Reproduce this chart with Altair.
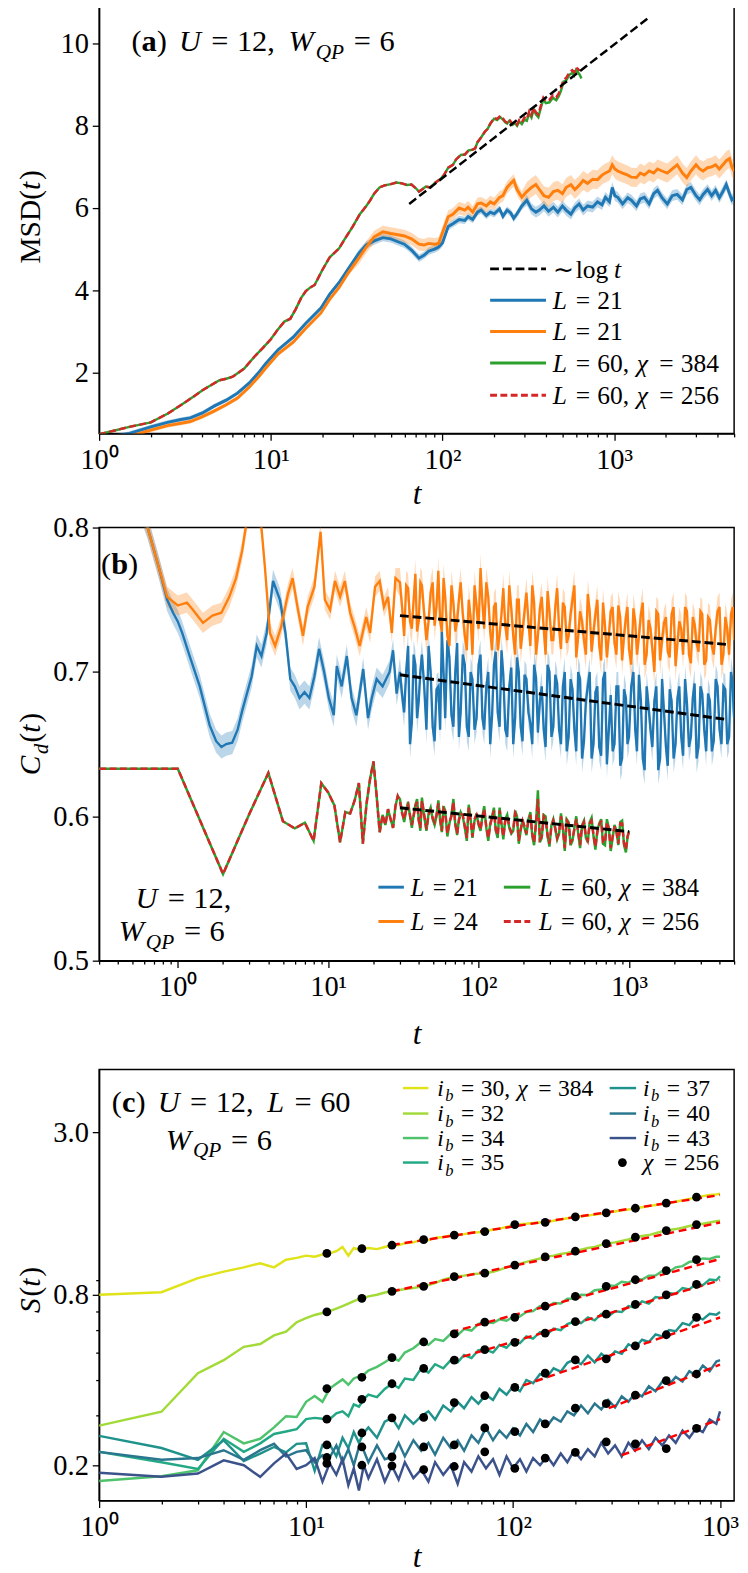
import altair as alt
import pandas as pd

FONT = "Liberation Serif"
BLUE, ORANGE, GREEN, RED = "#1f77b4", "#ff7f0e", "#2ca02c", "#d62728"

# ================= panel (a) data =================
A_T = [1, 1.2, 1.5, 2, 2.5, 3, 3.4, 4, 4.7, 5.5,
       6.4, 7.5, 8.5, 9.3, 11, 13.5, 16, 19.6, 22, 25,
       28, 32.6, 36, 40, 45, 50, 55, 60, 66, 73,
       78, 83, 90, 95, 100, 108, 115, 125, 135, 141,
       150, 160, 168, 180, 190, 200, 215, 225, 238, 250,
       260, 272, 290, 310, 330, 350, 367, 390, 415, 443,
       470, 500, 525, 560, 590, 625, 660, 700, 750, 800,
       850, 890, 940, 975, 1010, 1050, 1120, 1200, 1260, 1350,
       1420, 1500, 1600, 1700, 1790, 1900, 2040, 2180, 2330, 2500,
       2650, 2800, 3000, 3150, 3300, 3500, 3700, 3900, 4100, 4300,
       4500, 4700, 4850, 5000]
A_BLUE = [0.40, 0.45, 0.52, 0.68, 0.79, 0.86, 0.90, 1.02, 1.19, 1.33,
          1.50, 1.75, 2.00, 2.21, 2.55, 2.86, 3.20, 3.57, 3.90, 4.19,
          4.50, 4.90, 5.10, 5.20, 5.28, 5.25, 5.18, 5.12, 4.98, 4.78,
          4.85, 4.95, 5.00, 5.05, 5.15, 5.55, 5.62, 5.72, 5.70, 5.79,
          5.72, 5.90, 5.95, 5.82, 5.90, 5.86, 5.98, 5.80, 5.95, 5.88,
          5.75, 5.86, 6.05, 6.19, 5.98, 5.90, 5.95, 6.05, 5.92, 6.02,
          5.90, 6.05, 5.95, 5.85, 6.00, 6.10, 5.95, 6.05, 6.02, 6.15,
          6.08, 6.26, 6.15, 6.50, 6.30, 6.26, 6.10, 6.25, 6.19, 6.05,
          6.22, 6.26, 6.10, 6.35, 6.43, 6.25, 6.10, 6.30, 6.33, 6.20,
          6.45, 6.50, 6.30, 6.20, 6.33, 6.45, 6.30, 6.43, 6.25, 6.40,
          6.57, 6.35, 6.20, 6.26]
A_ORANGE = [0.35, 0.38, 0.45, 0.60, 0.71, 0.77, 0.81, 0.93, 1.07, 1.22,
            1.38, 1.65, 1.90, 2.10, 2.45, 2.74, 3.08, 3.45, 3.78, 4.07,
            4.40, 4.79, 5.05, 5.30, 5.42, 5.38, 5.35, 5.32, 5.25, 5.12,
            5.10, 5.14, 5.12, 5.14, 5.40, 5.79, 5.85, 6.00, 5.95, 6.02,
            5.90, 6.10, 6.12, 6.05, 6.15, 6.10, 6.26, 6.30, 6.50, 6.60,
            6.67, 6.45, 6.26, 6.40, 6.50, 6.57, 6.45, 6.30, 6.26, 6.40,
            6.43, 6.35, 6.50, 6.57, 6.45, 6.55, 6.67, 6.60, 6.70, 6.69,
            6.80, 6.85, 6.90, 7.05, 6.95, 6.90, 6.85, 6.80, 6.75, 6.74,
            6.85, 6.80, 6.90, 6.85, 6.95, 6.90, 6.85, 6.95, 7.05, 6.85,
            6.74, 6.90, 7.05, 6.95, 6.90, 6.98, 7.00, 7.05, 6.95, 7.05,
            7.15, 7.20, 7.00, 6.90]
# half-width of the shaded bands, read per time range (t<30, t<300, later)
A_BAND_EDGES = [30, 300]
A_BLUE_ERR = [0.05, 0.09, 0.13]
A_ORANGE_ERR = [0.05, 0.15, 0.23]
A_GREEN = [(1, 0.50), (1.2, 0.58), (1.5, 0.68), (2, 0.79), (2.5, 1.0), (3, 1.21), (3.5, 1.40), (4, 1.57),
           (4.5, 1.70), (5, 1.81), (5.5, 1.85), (6, 1.90), (7, 2.10), (8, 2.38), (9, 2.60), (10, 2.81),
           (11, 3.05), (12, 3.24), (13, 3.31), (14, 3.55), (15, 3.81), (16, 3.98), (17, 4.07), (18, 4.13),
           (20, 4.50), (22, 4.80), (25, 5.02), (27, 5.25), (30, 5.55), (33, 5.85), (36, 6.05), (38, 6.19),
           (40, 6.35), (43, 6.50), (46, 6.55), (50, 6.58), (54, 6.62), (58, 6.60), (62, 6.56), (66, 6.57),
           (70, 6.48), (73, 6.40), (76, 6.45), (80, 6.52), (85, 6.50), (91, 6.62), (97, 6.70), (102, 6.80),
           (108, 6.98), (115, 7.05), (120, 7.18), (128, 7.29), (135, 7.30), (142, 7.40), (150, 7.42),
           (155, 7.45), (160, 7.60), (167, 7.70), (173, 7.80), (177, 7.86), (183, 7.92), (190, 8.05),
           (200, 8.17), (208, 8.14), (217, 8.21), (225, 8.15), (232, 8.08), (238, 8.05), (245, 8.12),
           (255, 8.02), (265, 8.06), (272, 8.00), (280, 8.10), (290, 8.04), (300, 8.15), (310, 8.12),
           (320, 8.30), (330, 8.20), (340, 8.40), (350, 8.28), (362, 8.21), (375, 8.45), (387, 8.64),
           (400, 8.55), (420, 8.57), (440, 8.68), (460, 8.62), (475, 8.71), (490, 8.85), (507, 9.07),
           (525, 9.10), (549, 9.24), (570, 9.28), (585, 9.22), (600, 9.36), (615, 9.30), (630, 9.24),
           (645, 9.15)]
A_RED = [(1, 0.50), (1.2, 0.58), (1.5, 0.68), (2, 0.79), (2.5, 1.0), (3, 1.21), (3.5, 1.40), (4, 1.57),
         (4.5, 1.70), (5, 1.81), (5.5, 1.85), (6, 1.90), (7, 2.10), (8, 2.38), (9, 2.60), (10, 2.81),
         (11, 3.05), (12, 3.24), (13, 3.31), (14, 3.55), (15, 3.81), (16, 3.98), (17, 4.07), (18, 4.13),
         (20, 4.50), (22, 4.80), (25, 5.02), (27, 5.25), (30, 5.55), (33, 5.85), (36, 6.05), (38, 6.19),
         (40, 6.35), (43, 6.50), (46, 6.55), (50, 6.58), (54, 6.62), (58, 6.60), (62, 6.56), (66, 6.57),
         (70, 6.48), (73, 6.40), (76, 6.45), (80, 6.52), (85, 6.50), (91, 6.62), (97, 6.70), (102, 6.80),
         (108, 6.98), (115, 7.05), (120, 7.18), (128, 7.29), (135, 7.30), (142, 7.40), (150, 7.42),
         (155, 7.45), (160, 7.60), (167, 7.70), (173, 7.80), (177, 7.86), (183, 7.92), (190, 8.05),
         (200, 8.19), (208, 8.16), (217, 8.24), (225, 8.18), (232, 8.10), (238, 8.08), (245, 8.15),
         (255, 8.05), (265, 8.10), (272, 8.03), (280, 8.14), (290, 8.08), (300, 8.20), (310, 8.16),
         (320, 8.35), (330, 8.26), (340, 8.44), (350, 8.33), (362, 8.27), (375, 8.50), (387, 8.68),
         (400, 8.60), (420, 8.63), (440, 8.74), (460, 8.69), (475, 8.78), (490, 8.92), (507, 9.12),
         (525, 9.16), (549, 9.30), (570, 9.35), (585, 9.30), (600, 9.42), (615, 9.38), (630, 9.33)]
A_LOG_T = [64, 1560]
A_LOG_V = [6.1, 10.6]

# ================= panel (b) data =================
B_BLUE_EARLY = [(0.5, 0.83), (0.63, 0.80), (0.75, 0.772), (0.85, 0.75), (0.93, 0.741), (1.0, 0.735),
                (1.07, 0.727), (1.2, 0.711), (1.4, 0.69), (1.63, 0.663), (1.8, 0.652), (1.95, 0.648),
                (2.1, 0.65), (2.3, 0.651), (2.5, 0.66), (2.68, 0.673), (3.1, 0.697), (3.35, 0.718),
                (3.6, 0.711), (3.9, 0.727), (4.3, 0.763), (4.78, 0.75), (5.2, 0.727), (5.6, 0.695),
                (6.0, 0.69), (6.45, 0.682), (6.96, 0.686), (7.5, 0.682), (8.1, 0.697), (8.7, 0.716),
                (9.4, 0.70), (10.1, 0.682), (10.9, 0.67), (11.4, 0.704), (12.3, 0.69), (13.3, 0.711),
                (14.3, 0.682), (15.4, 0.67), (17.1, 0.702), (18.4, 0.668), (19.5, 0.682), (21, 0.695),
                (23, 0.69), (25.6, 0.70), (27, 0.715), (28.5, 0.685)]
B_ORANGE_EARLY = [(0.5, 0.83), (0.63, 0.80), (0.75, 0.772), (0.85, 0.752), (1.0, 0.746), (1.15, 0.748),
                  (1.26, 0.743), (1.47, 0.734), (1.7, 0.739), (1.95, 0.741), (2.2, 0.752), (2.44, 0.765),
                  (2.68, 0.784), (2.83, 0.80), (3.2, 0.83), (3.6, 0.80), (3.8, 0.772), (4.1, 0.727),
                  (4.44, 0.718), (4.86, 0.731), (5.4, 0.754), (5.8, 0.765), (6.3, 0.743), (6.8, 0.725),
                  (7.3, 0.745), (8.1, 0.759), (8.9, 0.797), (9.5, 0.75), (10.3, 0.743), (11.1, 0.763),
                  (12.0, 0.752), (12.9, 0.763), (14, 0.741), (15, 0.731), (16.2, 0.718), (17.9, 0.738),
                  (19, 0.727), (20.5, 0.759), (22, 0.763), (23.5, 0.745), (25, 0.752), (26.5, 0.727),
                  (28, 0.765)]
B_GREEN_EARLY = [(0.1, 0.633), (1, 0.633), (2, 0.560), (3, 0.602), (4, 0.630), (5, 0.5966), (6, 0.5916),
                 (7, 0.5955), (8, 0.583), (9, 0.623), (10, 0.6165), (11, 0.6075), (12, 0.582), (13, 0.603),
                 (14, 0.602), (15, 0.611), (16, 0.623), (17, 0.581), (18, 0.609), (19, 0.626), (20, 0.638),
                 (21, 0.614), (22, 0.589), (23, 0.601), (24, 0.594), (25, 0.605), (26, 0.598), (27, 0.592),
                 (28, 0.607), (29, 0.614)]
B_NOISE_T = [30, 32, 34, 36, 38, 40, 42, 45, 48, 51,
             54, 57, 60, 64, 68, 72, 76, 81, 86, 91,
             97, 103, 109, 116, 123, 130, 138, 146, 155, 165,
             175, 185, 196, 208, 221, 234, 248, 263, 279, 296,
             314, 333, 353, 374, 397, 421, 446, 473, 502, 532,
             564, 598, 634, 672, 713, 756, 801, 849, 900, 954,
             1000, 1070, 1130, 1200, 1270, 1350, 1430, 1520, 1610, 1710,
             1810, 1920, 2040, 2160, 2290, 2430, 2580, 2730, 2900, 3070,
             3260, 3450, 3660, 3880, 4120, 4370, 4630, 4900, 5000]
B_MID_T = [31, 33, 35, 37, 39, 41, 43.5, 46.5, 49.5, 52.5,
           55.5, 58.5, 62, 66, 70, 74, 78.5, 83.5, 88.5, 94,
           100, 106, 112.5, 119.5, 126.5, 134, 142, 150.5, 160, 170,
           180, 190.5, 202, 214.5, 227.5, 241, 255.5, 271, 287.5, 305,
           323.5, 343, 363.5, 385.5, 409, 433.5, 459.5, 487.5, 517, 548,
           581, 616, 653, 692.5, 734.5, 778.5, 825, 874.5, 927, 977,
           1035, 1100, 1165, 1235, 1310, 1390, 1475, 1565, 1660, 1760,
           1865, 1980, 2100, 2225, 2360, 2505, 2655, 2815, 2985, 3165,
           3355, 3555, 3770, 4000, 4245, 4500, 4765, 4950]
B_BLUE_NOISE = [0.700, 0.672, 0.718, 0.665, 0.705, 0.680, 0.712, 0.660, 0.700, 0.652,
                0.690, 0.728, 0.668, 0.710, 0.662, 0.720, 0.672, 0.705, 0.655, 0.695,
                0.668, 0.712, 0.660, 0.700, 0.670, 0.714, 0.662, 0.698, 0.655, 0.703,
                0.668, 0.700, 0.652, 0.695, 0.664, 0.705, 0.658, 0.690, 0.648, 0.700,
                0.662, 0.692, 0.650, 0.700, 0.655, 0.688, 0.645, 0.695, 0.652, 0.690,
                0.640, 0.686, 0.648, 0.695, 0.636, 0.684, 0.650, 0.690, 0.640, 0.682,
                0.655, 0.700, 0.645, 0.680, 0.632, 0.676, 0.648, 0.690, 0.640, 0.672,
                0.635, 0.680, 0.650, 0.690, 0.642, 0.678, 0.655, 0.692, 0.648, 0.685,
                0.645, 0.680, 0.652, 0.690, 0.650, 0.688, 0.655, 0.692, 0.668]
B_BLUE_MID = [0.684, 0.700, 0.650, 0.712, 0.668, 0.700, 0.690, 0.718, 0.662, 0.688,
              0.660, 0.700, 0.722, 0.670, 0.700, 0.655, 0.712, 0.662, 0.700, 0.660,
              0.705, 0.668, 0.690, 0.650, 0.705, 0.672, 0.715, 0.660, 0.690, 0.650,
              0.710, 0.662, 0.698, 0.672, 0.650, 0.696, 0.680, 0.660, 0.705, 0.655,
              0.698, 0.660, 0.690, 0.645, 0.695, 0.660, 0.700, 0.640, 0.680, 0.700,
              0.650, 0.690, 0.642, 0.700, 0.660, 0.645, 0.690, 0.635, 0.688, 0.650,
              0.690, 0.660, 0.698, 0.640, 0.690, 0.660, 0.680, 0.632, 0.695, 0.648,
              0.688, 0.640, 0.682, 0.655, 0.695, 0.648, 0.682, 0.640, 0.690, 0.660,
              0.685, 0.645, 0.695, 0.660, 0.690, 0.650, 0.700, 0.675]
B_ORANGE_NOISE = [0.762, 0.725, 0.758, 0.730, 0.768, 0.735, 0.760, 0.722, 0.755, 0.732,
                  0.770, 0.728, 0.752, 0.718, 0.748, 0.735, 0.762, 0.725, 0.750, 0.712,
                  0.745, 0.772, 0.730, 0.752, 0.715, 0.748, 0.726, 0.758, 0.722, 0.744,
                  0.712, 0.750, 0.728, 0.755, 0.718, 0.748, 0.725, 0.752, 0.712, 0.742,
                  0.722, 0.758, 0.716, 0.745, 0.725, 0.750, 0.710, 0.742, 0.722, 0.754,
                  0.714, 0.740, 0.718, 0.748, 0.710, 0.742, 0.720, 0.746, 0.708, 0.738,
                  0.716, 0.744, 0.712, 0.740, 0.705, 0.736, 0.716, 0.742, 0.708, 0.734,
                  0.714, 0.740, 0.704, 0.735, 0.712, 0.742, 0.706, 0.733, 0.714, 0.740,
                  0.708, 0.736, 0.712, 0.742, 0.705, 0.738, 0.712, 0.745, 0.722]
B_ORANGE_MID = [0.745, 0.760, 0.735, 0.750, 0.728, 0.762, 0.740, 0.735, 0.762, 0.745,
                0.735, 0.765, 0.725, 0.760, 0.728, 0.750, 0.740, 0.715, 0.738, 0.760,
                0.730, 0.748, 0.762, 0.728, 0.745, 0.715, 0.740, 0.732, 0.760, 0.725,
                0.750, 0.716, 0.742, 0.735, 0.760, 0.712, 0.744, 0.730, 0.756, 0.722,
                0.745, 0.730, 0.748, 0.720, 0.740, 0.760, 0.725, 0.735, 0.712, 0.742,
                0.728, 0.750, 0.708, 0.732, 0.725, 0.745, 0.712, 0.738, 0.725, 0.745,
                0.705, 0.735, 0.725, 0.748, 0.712, 0.730, 0.700, 0.740, 0.722, 0.738,
                0.710, 0.745, 0.720, 0.730, 0.745, 0.712, 0.738, 0.720, 0.742, 0.705,
                0.738, 0.718, 0.730, 0.745, 0.712, 0.730, 0.740, 0.735]
B_GREEN_NOISE = [0.612, 0.596, 0.610, 0.592, 0.608, 0.598, 0.613, 0.590, 0.606, 0.594,
                 0.611, 0.589, 0.604, 0.595, 0.612, 0.587, 0.603, 0.592, 0.608, 0.585,
                 0.602, 0.590, 0.607, 0.583, 0.600, 0.590, 0.606, 0.584, 0.601, 0.588,
                 0.604, 0.581, 0.598, 0.587, 0.603, 0.580, 0.618, 0.585, 0.600, 0.579,
                 0.598, 0.584, 0.602, 0.576, 0.596, 0.583, 0.600, 0.578, 0.597, 0.582,
                 0.599, 0.577, 0.595, 0.581, 0.598, 0.576, 0.594, 0.580, 0.597, 0.575,
                 0.590]
B_GREEN_MID = [0.603, 0.604, 0.600, 0.601, 0.612, 0.590, 0.600, 0.602, 0.598, 0.600,
               0.597, 0.607, 0.586, 0.601, 0.594, 0.598, 0.600, 0.583, 0.598, 0.597,
               0.594, 0.600, 0.592, 0.595, 0.606, 0.585, 0.595, 0.598, 0.592, 0.590,
               0.600, 0.590, 0.592, 0.598, 0.586, 0.596, 0.582, 0.601, 0.586, 0.594,
               0.591, 0.588, 0.592, 0.598, 0.580, 0.592, 0.588, 0.594, 0.585, 0.596,
               0.586, 0.590, 0.598, 0.580, 0.592, 0.585, 0.590, 0.596, 0.580, 0.585]
B_RED_NOISE = [0.610, 0.598, 0.608, 0.594, 0.607, 0.597, 0.611, 0.591, 0.604, 0.596,
               0.609, 0.590, 0.603, 0.596, 0.610, 0.588, 0.602, 0.593, 0.606, 0.586,
               0.601, 0.591, 0.605, 0.585, 0.599, 0.591, 0.604, 0.586, 0.600, 0.589,
               0.602, 0.583, 0.597, 0.588, 0.601, 0.582, 0.612, 0.586, 0.598, 0.581,
               0.597, 0.585, 0.600, 0.578, 0.595, 0.584, 0.598, 0.580, 0.596, 0.583,
               0.597, 0.579, 0.594, 0.582, 0.596, 0.578, 0.593, 0.581, 0.595, 0.577,
               0.589]
B_RED_MID = [0.602, 0.605, 0.601, 0.600, 0.610, 0.592, 0.601, 0.601, 0.599, 0.601,
             0.598, 0.605, 0.588, 0.600, 0.595, 0.597, 0.601, 0.585, 0.597, 0.598,
             0.595, 0.599, 0.593, 0.594, 0.604, 0.587, 0.594, 0.597, 0.593, 0.591,
             0.599, 0.591, 0.593, 0.597, 0.588, 0.595, 0.584, 0.600, 0.587, 0.593,
             0.592, 0.589, 0.591, 0.597, 0.582, 0.591, 0.589, 0.593, 0.586, 0.595,
             0.587, 0.589, 0.597, 0.582, 0.591, 0.586, 0.589, 0.595, 0.581, 0.586]
B_BLUE_ERR = [0.008, 0.010]     # band half-width early / noisy part
B_ORANGE_ERR = [0.007, 0.010]
B_FIT_NAMES = ["blue", "orange", "green"]
B_FIT_T0 = [30, 30, 30]
B_FIT_T1 = [4500, 4500, 1000]
B_FIT_V0 = [0.698, 0.739, 0.6059]
B_FIT_V1 = [0.667, 0.719, 0.5894]

# ================= panel (c) data =================
C_T = [1, 2, 3, 4, 5, 6, 7, 8, 9, 10,
       11, 12, 13, 14, 15, 16, 17, 18, 19, 20,
       22, 24, 26, 28, 30, 33, 36, 39, 42, 46,
       50, 54, 58, 63, 68, 74, 80, 86, 93, 100,
       108, 116, 125, 135, 146, 157, 170, 183, 197, 213,
       230, 248, 267, 288, 311, 335, 361, 389, 420, 453,
       488, 526, 567, 611, 659, 711, 766, 826, 891, 960,
       1000]
C_IB = ["30", "32", "34", "35", "37", "40", "43"]
C_COLORS = ["#dfe318", "#a2da37", "#4ec36b", "#22a884", "#1f928c", "#2a768e", "#3b528b"]
C_S30 = [0.80, 0.817, 0.916, 0.966, 1.00, 1.034, 1.00, 1.064, 1.08, 1.10,
         1.09, 1.11, 1.12, 1.14, 1.18, 1.10, 1.17, 1.155, 1.165, 1.17,
         1.16, 1.18, 1.197, 1.20, 1.215, 1.225, 1.25, 1.248, 1.27, 1.28,
         1.295, 1.30, 1.31, 1.325, 1.33, 1.34, 1.36, 1.37, 1.39, 1.41,
         1.42, 1.425, 1.435, 1.44, 1.445, 1.46, 1.475, 1.49, 1.505, 1.515,
         1.525, 1.535, 1.545, 1.56, 1.575, 1.59, 1.60, 1.615, 1.63, 1.645,
         1.66, 1.675, 1.69, 1.705, 1.725, 1.745, 1.765, 1.785, 1.80, 1.81,
         1.82]
C_S32 = [0.276, 0.309, 0.423, 0.47, 0.524, 0.536, 0.575, 0.593, 0.64, 0.662,
         0.679, 0.69, 0.70, 0.715, 0.73, 0.745, 0.76, 0.772, 0.78, 0.79,
         0.80, 0.815, 0.823, 0.83, 0.838, 0.845, 0.855, 0.865, 0.88, 0.905,
         0.92, 0.93, 0.935, 0.945, 0.95, 0.955, 0.965, 0.98, 1.0, 1.015,
         1.03, 1.045, 1.06, 1.075, 1.09, 1.10, 1.115, 1.125, 1.14, 1.155,
         1.17, 1.18, 1.20, 1.215, 1.225, 1.24, 1.255, 1.275, 1.29, 1.30,
         1.32, 1.34, 1.355, 1.365, 1.38, 1.40, 1.415, 1.425, 1.44, 1.455,
         1.46]
C_S34 = [0.176, 0.183, 0.192, 0.262, 0.239, 0.248, 0.272, 0.298, 0.296, 0.335,
         0.351, 0.335, 0.373, 0.388, 0.402, 0.385, 0.405, 0.412, 0.418, 0.432,
         0.445, 0.462, 0.48, 0.468, 0.50, 0.518, 0.545, 0.532, 0.558, 0.55,
         0.582, 0.576, 0.605, 0.598, 0.632, 0.64, 0.636, 0.655, 0.648, 0.668,
         0.672, 0.695, 0.70, 0.73, 0.722, 0.748, 0.745, 0.775, 0.775, 0.80,
         0.798, 0.83, 0.835, 0.865, 0.86, 0.89, 0.882, 0.915, 0.905, 0.935,
         0.935, 0.97, 0.965, 1.0, 1.01, 1.045, 1.055, 1.075, 1.07, 1.09,
         1.09]
C_S35 = [0.223, 0.205, 0.194, 0.248, 0.223, 0.239, 0.258, 0.263, 0.268, 0.291,
         0.294, 0.292, 0.291, 0.305, 0.31, 0.298, 0.328, 0.322, 0.342, 0.355,
         0.348, 0.372, 0.388, 0.375, 0.405, 0.40, 0.44, 0.425, 0.455, 0.44,
         0.47, 0.462, 0.49, 0.478, 0.51, 0.512, 0.50, 0.532, 0.52, 0.55,
         0.54, 0.57, 0.56, 0.59, 0.58, 0.608, 0.60, 0.63, 0.643, 0.635,
         0.665, 0.65, 0.685, 0.67, 0.70, 0.695, 0.73, 0.72, 0.758, 0.745,
         0.785, 0.78, 0.812, 0.805, 0.845, 0.835, 0.875, 0.865, 0.905, 0.90,
         0.93]
C_S37 = [0.254, 0.230, 0.209, 0.245, 0.207, 0.220, 0.232, 0.222, 0.238, 0.239,
         0.191, 0.236, 0.237, 0.215, 0.25, 0.23, 0.262, 0.24, 0.26, 0.272,
         0.25, 0.285, 0.294, 0.27, 0.30, 0.28, 0.298, 0.31, 0.29, 0.325,
         0.31, 0.335, 0.318, 0.348, 0.33, 0.355, 0.34, 0.372, 0.355, 0.38,
         0.365, 0.40, 0.39, 0.42, 0.41, 0.44, 0.428, 0.46, 0.472, 0.455,
         0.488, 0.462, 0.495, 0.475, 0.505, 0.495, 0.535, 0.52, 0.555, 0.545,
         0.58, 0.57, 0.60, 0.595, 0.635, 0.625, 0.668, 0.655, 0.685, 0.68,
         0.695]
C_S40 = [0.223, 0.209, 0.212, 0.226, 0.209, 0.226, 0.238, 0.2145, 0.223, 0.226,
         0.205, 0.217, 0.213, 0.235, 0.205, 0.228, 0.20, 0.232, 0.225, 0.205,
         0.235, 0.21, 0.214, 0.24, 0.215, 0.245, 0.225, 0.24, 0.218, 0.25,
         0.23, 0.245, 0.225, 0.255, 0.24, 0.271, 0.245, 0.265, 0.25, 0.27,
         0.255, 0.28, 0.262, 0.29, 0.275, 0.295, 0.285, 0.31, 0.30, 0.325,
         0.305, 0.33, 0.315, 0.34, 0.32, 0.35, 0.335, 0.36, 0.35, 0.38,
         0.365, 0.395, 0.385, 0.41, 0.395, 0.43, 0.415, 0.45, 0.43, 0.465,
         0.47]
C_S43 = [0.188, 0.182, 0.187, 0.208, 0.200, 0.182, 0.203, 0.22, 0.194, 0.200,
         0.212, 0.175, 0.203, 0.185, 0.21, 0.17, 0.195, 0.163, 0.20, 0.18,
         0.21, 0.175, 0.199, 0.178, 0.205, 0.18, 0.193, 0.175, 0.205, 0.185,
         0.20, 0.172, 0.205, 0.19, 0.215, 0.195, 0.21, 0.185, 0.215, 0.195,
         0.21, 0.19, 0.212, 0.20, 0.215, 0.20, 0.22, 0.205, 0.225, 0.21,
         0.228, 0.215, 0.24, 0.22, 0.235, 0.215, 0.24, 0.225, 0.245, 0.228,
         0.25, 0.235, 0.255, 0.24, 0.265, 0.25, 0.27, 0.262, 0.29, 0.28,
         0.31]
C_DOT_T = [12.6, 18.6, 26, 37, 52, 73, 102, 143, 200, 282, 390, 550, 770]
C_D30 = [1.12, 1.165, 1.197, 1.252, 1.30, 1.338, 1.416, 1.442, 1.508, 1.558, 1.617, 1.687, 1.77]
C_D32 = [0.696, 0.777, 0.823, 0.857, 0.928, 0.954, 1.019, 1.089, 1.14, 1.213, 1.278, 1.349, 1.416]
C_D34 = [0.373, 0.409, 0.48, 0.545, 0.582, 0.64, 0.666, 0.73, 0.79, 0.857, 0.904, 0.974, 1.064]
C_D35 = [0.291, 0.342, 0.388, 0.44, 0.47, 0.512, 0.543, 0.586, 0.643, 0.683, 0.74, 0.80, 0.87]
C_D37 = [0.236, 0.26, 0.294, 0.295, 0.333, 0.352, 0.377, 0.423, 0.471, 0.475, 0.528, 0.578, 0.666]
C_D40 = [0.213, 0.232, 0.214, 0.232, 0.236, 0.271, 0.263, 0.28, 0.318, 0.330, 0.354, 0.398, 0.42]
C_D43 = [0.203, 0.200, 0.199, 0.193, 0.198, 0.223, 0.195, 0.212, 0.222, 0.242, 0.238, 0.229, 0.27]
C_FIT_T0 = [26, 26, 50, 50, 98, 290, 335]
C_FIT_T1 = [1000, 1000, 1000, 1000, 1000, 1000, 1000]
C_FIT_V0 = [1.20, 0.823, 0.59, 0.47, 0.37, 0.318, 0.217]
C_FIT_V1 = [1.80, 1.44, 1.07, 0.90, 0.665, 0.453, 0.291]

# ================= axis ticks =================
XT_A = [1, 2, 3, 4, 5, 6, 7, 8, 9, 10, 20, 30, 40, 50, 60, 70, 80, 90,
        100, 200, 300, 400, 500, 600, 700, 800, 900, 1000, 2000, 3000, 4000, 5000]
XT_B = [0.3, 0.4, 0.5, 0.6, 0.7, 0.8, 0.9] + XT_A
XT_C = XT_A[:28]
YT_A = [2, 4, 6, 8, 10]
YT_B = [0.5, 0.6, 0.7, 0.8]
YT_C = [0.2, 0.3, 0.4, 0.5, 0.6, 0.7, 0.8, 0.9, 3.0]

XMAJOR = "datum.value == 1 || datum.value == 10 || datum.value == 100 || datum.value == 1000"
XLABEL = ("datum.value == 1 ? '10\u2070' : datum.value == 10 ? '10\u00b9' : "
          "datum.value == 100 ? '10\u00b2' : datum.value == 1000 ? '10\u00b3' : ''")
YCMAJOR = "datum.value == 0.2 || datum.value == 0.8 || datum.value == 3"
YCLABEL = "(" + YCMAJOR + ") ? format(datum.value, '.1f') : ''"

TICK_FS = 29
W = 648


def xenc(domain, ticks, tpad):
    return alt.X("t:Q", scale=alt.Scale(type="log", domain=domain, nice=False),
                 axis=alt.Axis(values=ticks, labelExpr=XLABEL, title="t",
                               tickSize={"condition": {"test": XMAJOR, "value": 7}, "value": 3.5},
                               titleFontStyle="italic", titleFontWeight="normal", titleFontSize=32,
                               titlePadding=tpad, labelPadding=6, labelFlush=False,
                               labelOverlap=False, labelFontSize=TICK_FS))


# ---------- text helpers (annotation text, mixed styles) ----------
ONE = pd.DataFrame({"k": [0]})
WR = {"(": 0.333, ")": 0.333, ",": 0.25, ".": 0.25, "=": 0.564,
      "M": 0.889, "S": 0.556, "D": 0.722, "l": 0.278, "o": 0.5, "g": 0.5, "\u223c": 0.6}
WI = {"U": 0.722, "W": 0.833, "Q": 0.722, "P": 0.611, "L": 0.556, "i": 0.278, "b": 0.5,
      "t": 0.278, "C": 0.667, "d": 0.5, "S": 0.5, "\u03c7": 0.55}
WB = {"a": 0.5, "b": 0.556, "c": 0.444}


def G(em):
    return ("", "g", em)


def EQ(val):
    return [G(0.28), ("=", "r"), G(0.28), (val, "r")]


def seg_w(text, style, fs):
    tab = WI if style == "i" else (WB if style == "b" else WR)
    w = sum(tab.get(ch, 0.5) for ch in text) * fs
    if style == "i":
        w += 0.06 * fs
    return w


def rich_width(segs, size):
    tot = 0.0
    for s in segs:
        if s[1] == "g":
            tot += s[2] * size
        else:
            tot += seg_w(s[0], s[1], size * (s[2] if len(s) > 2 else 1.0))
    return tot


def rich(segs, x, y, size, angle=0):
    out = []
    cur = 0.0
    for s in segs:
        if s[1] == "g":
            cur += s[2] * size
            continue
        text, style = s[0], s[1]
        sc = s[2] if len(s) > 2 else 1.0
        sh = s[3] if len(s) > 3 else 0.0
        fs = size * sc
        if angle == 0:
            px, py = x + cur, y + sh * size
        else:
            px, py = x + sh * size, y - cur
        kw = dict(text=text, font=FONT, fontSize=fs, align="left", baseline="alphabetic", color="black")
        if style == "i":
            kw["fontStyle"] = "italic"
        if style == "b":
            kw["fontWeight"] = "bold"
        if angle:
            kw["angle"] = angle
        out.append(alt.Chart(ONE).mark_text(**kw).encode(x=alt.value(px), y=alt.value(py)))
        cur += seg_w(text, style, fs)
    return out


def ytitle(segs, cy, size=30, x=-60):
    tw = rich_width(segs, size)
    return rich(segs, x, cy + tw / 2, size, angle=270)


def leg_line(x1, x2, y, color, dash=None, width=2.5, opacity=1):
    kw = dict(color=color, strokeWidth=width, opacity=opacity)
    if dash:
        kw["strokeDash"] = dash
    return alt.Chart(ONE).mark_rule(**kw).encode(x=alt.value(x1), x2=alt.value(x2), y=alt.value(y))


def band_df(ts, vs, errs, edges):
    rows = []
    for t, v in zip(ts, vs):
        k = sum(1 for e in edges if t >= e)
        rows.append({"t": t, "lo": v - errs[k], "hi": v + errs[k]})
    return pd.DataFrame(rows)


def line(df, color, width=2.5, dash=None, X=None, Y=None):
    kw = dict(color=color, strokeWidth=width, clip=True)
    if dash:
        kw["strokeDash"] = dash
    return alt.Chart(df).mark_line(**kw).encode(x=X, y=Y)


def area(df, color, X, Ysc, Yax):
    return alt.Chart(df).mark_area(color=color, opacity=0.3, clip=True).encode(
        x=X, y=alt.Y("lo:Q", scale=Ysc, axis=Yax), y2="hi:Q")


def merged(early, t1, v1, t2, v2):
    pts = list(early) + list(zip(t1, v1)) + list(zip(t2, v2))
    pts.sort(key=lambda p: p[0])
    return [p[0] for p in pts], [p[1] for p in pts]


RDASH = [7, 3.5]
KDASH = [9, 4]
CHI = "\u03c7"

# ====================== panel (a) ======================
XA = xenc([1, 5000], XT_A, 4)
YA_SC = alt.Scale(domain=[0.52, 11.0], zero=False, nice=False)
YA_AX = alt.Axis(values=YT_A, title=None, tickSize=7, labelPadding=4, labelFontSize=TICK_FS)
YA = alt.Y("v:Q", scale=YA_SC, axis=YA_AX)

df_ab = pd.DataFrame({"t": A_T, "v": A_BLUE})
df_ao = pd.DataFrame({"t": A_T, "v": A_ORANGE})
df_ag = pd.DataFrame(A_GREEN, columns=["t", "v"])
df_ar = pd.DataFrame(A_RED, columns=["t", "v"])
df_alog = pd.DataFrame({"t": A_LOG_T, "v": A_LOG_V})

la = [
    area(band_df(A_T, A_BLUE, A_BLUE_ERR, A_BAND_EDGES), BLUE, XA, YA_SC, YA_AX),
    area(band_df(A_T, A_ORANGE, A_ORANGE_ERR, A_BAND_EDGES), ORANGE, XA, YA_SC, YA_AX),
    line(df_ab, BLUE, 3, X=XA, Y=YA),
    line(df_ao, ORANGE, 3, X=XA, Y=YA),
    line(df_ag, GREEN, 2.5, X=XA, Y=YA),
    line(df_ar, RED, 2.5, RDASH, X=XA, Y=YA),
    line(df_alog, "black", 2.5, KDASH, X=XA, Y=YA),
]
LEG_A_ROWS = [272, 304, 336, 368, 401]
LEG_A_COL = [("black", KDASH), (BLUE, None), (ORANGE, None), (GREEN, None), (RED, RDASH)]
LEG_A_TXT = [
    [("\u223c", "r"), G(0.3), ("log", "r"), G(0.22), ("t", "i")],
    [("L", "i")] + EQ("21"),
    [("L", "i")] + EQ("21"),
    [("L", "i")] + EQ("60,") + [G(0.3), (CHI, "i")] + EQ("384"),
    [("L", "i")] + EQ("60,") + [G(0.3), (CHI, "i")] + EQ("256"),
]
for yy, (c, d), segs in zip(LEG_A_ROWS, LEG_A_COL, LEG_A_TXT):
    la.append(leg_line(399, 456, yy, c, d, 3))
    la += rich(segs, 463, yy + 9, 26)
la += rich([("(", "r"), ("a", "b"), (")", "r"), G(0.4), ("U", "i")] + EQ("12,") +
           [G(0.45), ("W", "i"), ("QP", "i", 0.7, 0.25)] + EQ("6"), 33, 50, 31)
la += ytitle([("MSD(", "r"), ("t", "i"), (")", "r")], 219)
panel_a = alt.layer(*la).properties(width=W, height=440)

# ====================== panel (b) ======================
XB = xenc([0.3, 5000], XT_B, 18)
YB_SC = alt.Scale(domain=[0.5, 0.8], zero=False, nice=False)
YB_AX = alt.Axis(values=YT_B, format=".1f", title=None, tickSize=7, labelPadding=4, labelFontSize=TICK_FS)
YB = alt.Y("v:Q", scale=YB_SC, axis=YB_AX)

bt_blue, bv_blue = merged(B_BLUE_EARLY, B_NOISE_T, B_BLUE_NOISE, B_MID_T, B_BLUE_MID)
bt_or, bv_or = merged(B_ORANGE_EARLY, B_NOISE_T, B_ORANGE_NOISE, B_MID_T, B_ORANGE_MID)
bt_gr, bv_gr = merged(B_GREEN_EARLY, B_NOISE_T, B_GREEN_NOISE, B_MID_T, B_GREEN_MID)
bt_rd, bv_rd = merged(B_GREEN_EARLY, B_NOISE_T, B_RED_NOISE, B_MID_T, B_RED_MID)
df_bfit = pd.DataFrame({"t": B_FIT_T0 + B_FIT_T1, "v": B_FIT_V0 + B_FIT_V1, "s": B_FIT_NAMES * 2})

lb = [
    area(band_df(bt_blue, bv_blue, B_BLUE_ERR, [30]), BLUE, XB, YB_SC, YB_AX),
    area(band_df(bt_or, bv_or, B_ORANGE_ERR, [30]), ORANGE, XB, YB_SC, YB_AX),
    line(pd.DataFrame({"t": bt_blue, "v": bv_blue}), BLUE, 2.4, X=XB, Y=YB),
    line(pd.DataFrame({"t": bt_or, "v": bv_or}), ORANGE, 2.4, X=XB, Y=YB),
    line(pd.DataFrame({"t": bt_gr, "v": bv_gr}), GREEN, 2.5, X=XB, Y=YB),
    line(pd.DataFrame({"t": bt_rd, "v": bv_rd}), RED, 2.5, RDASH, X=XB, Y=YB),
    alt.Chart(df_bfit).mark_line(color="black", strokeWidth=3, strokeDash=KDASH, clip=True).encode(
        x=XB, y=YB, detail="s:N"),
]
LEG_B = [(285, 311, 318, 367, BLUE, None, [("L", "i")] + EQ("21")),
         (285, 311, 318, 402, ORANGE, None, [("L", "i")] + EQ("24")),
         (413, 440, 449, 367, GREEN, None, [("L", "i")] + EQ("60,") + [G(0.3), (CHI, "i")] + EQ("384")),
         (413, 440, 449, 402, RED, RDASH, [("L", "i")] + EQ("60,") + [G(0.3), (CHI, "i")] + EQ("256"))]
for x1, x2, xt, yy, c, d, segs in LEG_B:
    lb.append(leg_line(x1, x2, yy, c, d, 3))
    lb += rich(segs, xt, yy + 9, 25)
lb += rich([("(", "r"), ("b", "b"), (")", "r")], 2, 47, 31)
u_segs = [("U", "i")] + EQ("12,")
lb += rich(u_segs, 86 - rich_width(u_segs, 31) / 2, 388, 31)
lb += rich([("W", "i"), ("QP", "i", 0.7, 0.25)] + EQ("6"), 20, 422, 31)
lb += ytitle([("C", "i"), ("d", "i", 0.7, 0.25), ("(", "r"), ("t", "i"), (")", "r")], 221)
panel_b = alt.layer(*lb).properties(width=W, height=442)

# ====================== panel (c) ======================
XC = xenc([1, 1170], XT_C, 0)
YC_SC = alt.Scale(type="log", domain=[0.15, 5.0], nice=False)
YC_AX = alt.Axis(values=YT_C, labelExpr=YCLABEL, title=None, labelPadding=4, labelFontSize=TICK_FS,
                 tickSize={"condition": {"test": YCMAJOR, "value": 7}, "value": 3.5})
YC = alt.Y("v:Q", scale=YC_SC, axis=YC_AX)
CSER = [C_S30, C_S32, C_S34, C_S35, C_S37, C_S40, C_S43]
CDOT = [C_D30, C_D32, C_D34, C_D35, C_D37, C_D40, C_D43]
rows = []
for ib, vals in zip(C_IB, CSER):
    for t, v in zip(C_T, vals):
        rows.append({"t": t, "v": v, "s": ib})
df_c = pd.DataFrame(rows)
rows = []
for ib, vals in zip(C_IB, CDOT):
    for t, v in zip(C_DOT_T, vals):
        rows.append({"t": t, "v": v, "s": ib})
df_cd = pd.DataFrame(rows)
df_cf = pd.DataFrame({"t": C_FIT_T0 + C_FIT_T1, "v": C_FIT_V0 + C_FIT_V1, "s": C_IB * 2})

lc = [
    alt.Chart(df_c).mark_line(strokeWidth=2.5, clip=True).encode(
        x=XC, y=YC, color=alt.Color("s:N", scale=alt.Scale(domain=C_IB, range=C_COLORS), legend=None)),
    alt.Chart(df_cf).mark_line(color="#ff0000", strokeWidth=2.5, strokeDash=[8, 5], clip=True).encode(
        x=XC, y=YC, detail="s:N"),
    alt.Chart(df_cd).mark_circle(size=80, color="black", opacity=1, clip=True).encode(x=XC, y=YC),
]
LEG_C = [(310, 336, 345, 19, 0), (310, 336, 345, 45, 1), (310, 336, 345, 70, 2), (310, 336, 345, 95, 3),
         (521, 548, 555, 19, 4), (521, 548, 555, 45, 5), (521, 548, 555, 70, 6)]
for x1, x2, xt, yy, k in LEG_C:
    lc.append(leg_line(x1, x2, yy, C_COLORS[k], None, 2.5))
    if k == 0:
        segs = [("i", "i"), ("b", "i", 0.7, 0.22)] + EQ(C_IB[k] + ",") + [G(0.3), (CHI, "i")] + EQ("384")
    else:
        segs = [("i", "i"), ("b", "i", 0.7, 0.22)] + EQ(C_IB[k])
    lc += rich(segs, xt, yy + 8, 24)
lc.append(alt.Chart(ONE).mark_circle(size=80, color="black", opacity=1).encode(
    x=alt.value(534), y=alt.value(95)))
lc += rich([(CHI, "i")] + EQ("256"), 555, 103, 24)
lc += rich([("(", "r"), ("c", "b"), (")", "r"), G(0.4), ("U", "i")] + EQ("12,") +
           [G(0.45), ("L", "i")] + EQ("60"), 13, 43, 31)
lc += rich([("W", "i"), ("QP", "i", 0.7, 0.25)] + EQ("6"), 68, 82, 31)
lc += ytitle([("S", "i"), ("(", "r"), ("t", "i"), (")", "r")], 225)
# invisible spacer just above panel (c): widens the gap between panels (b) and (c)
lc.append(leg_line(0, 10, -15, "white", None, 1, 0))
panel_c = alt.layer(*lc).properties(width=W, height=440)

chart = alt.vconcat(panel_a, panel_b, panel_c, spacing=3).properties(
    padding={"top": -23, "left": 8, "right": 0, "bottom": 0}
).configure_view(stroke="black", strokeWidth=1.5).configure_axis(
    grid=False, domainColor="black", domainWidth=1.5, tickColor="black", tickWidth=1.3,
    labelColor="black", titleColor="black", labelFont=FONT, titleFont=FONT, labelFontSize=TICK_FS)

chart.save("out.html", embed_options={"renderer": "svg", "actions": False})
